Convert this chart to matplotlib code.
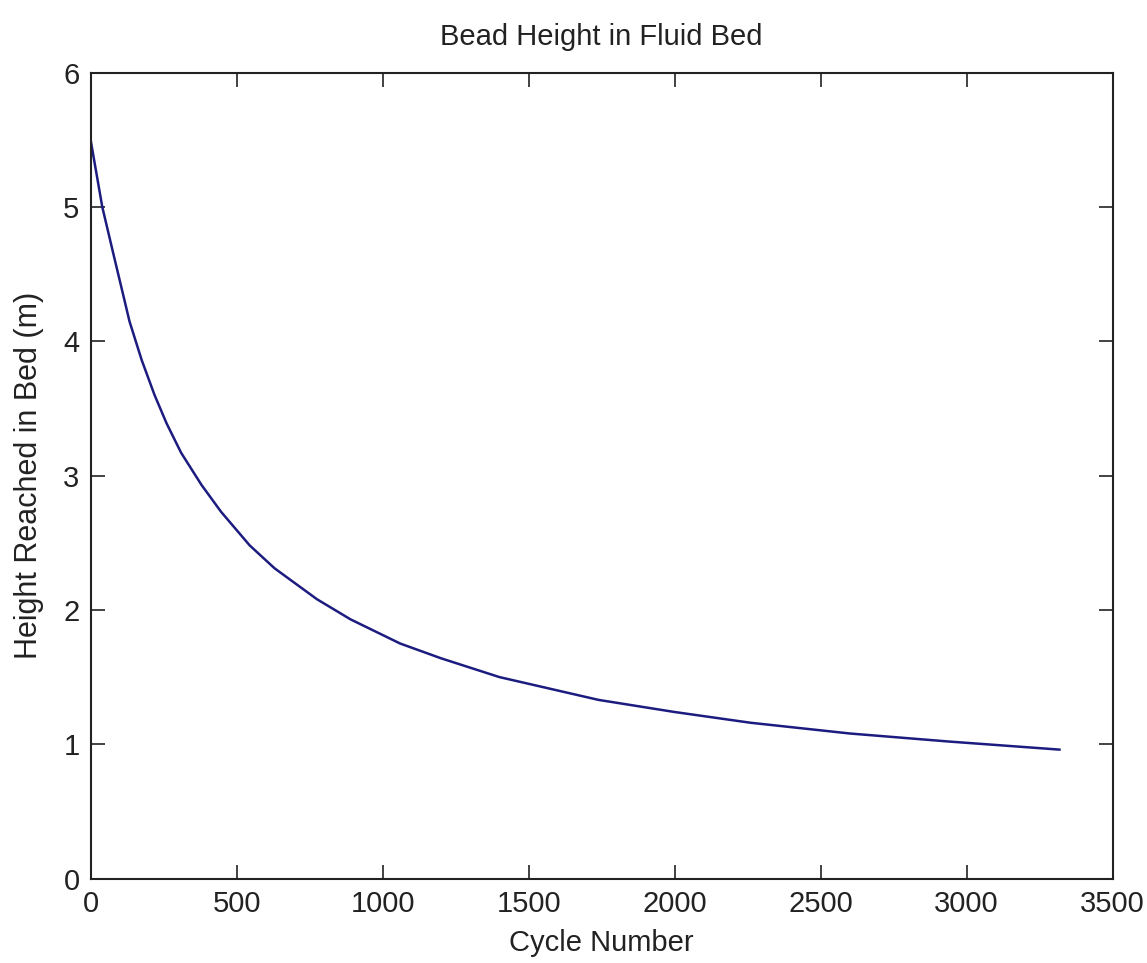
import matplotlib
matplotlib.use("Agg")
import matplotlib.pyplot as plt

cycle = [0, 20, 40, 77, 110, 133, 175, 219, 260, 310, 380, 447, 545, 630,
         775, 890, 1060, 1200, 1400, 1740, 2000, 2260, 2600, 2940, 3318]
height = [5.50, 5.25, 5.00, 4.66, 4.36, 4.15, 3.86, 3.60, 3.39, 3.17, 2.93,
          2.73, 2.48, 2.31, 2.08, 1.93, 1.75, 1.64, 1.50, 1.33, 1.24, 1.16,
          1.08, 1.02, 0.96]

xticks = [0, 500, 1000, 1500, 2000, 2500, 3000, 3500]
yticks = [0, 1, 2, 3, 4, 5, 6]

plt.rcParams['font.family'] = ['Liberation Sans', 'DejaVu Sans']

fig = plt.figure(figsize=(11.47, 9.63), dpi=100)
ax = fig.add_axes([0.079, 0.0877, 0.891, 0.8368])
ax.plot(cycle, height, color='#1c1c80', linewidth=1.8)

ax.set_xlim(0, 3500)
ax.set_ylim(0, 6)
ax.set_xticks(xticks)
ax.set_yticks(yticks)
ax.tick_params(direction='in', length=10, width=1.2, top=True, right=True,
               labelsize=21, pad=8, colors='#222222')
for s in ax.spines.values():
    s.set_linewidth(1.5)
    s.set_color('#222222')

ax.set_title('Bead Height in Fluid Bed', fontsize=21, pad=20, color='#222222')
ax.set_xlabel('Cycle Number', fontsize=21, labelpad=8, color='#222222')
ax.set_ylabel('Height Reached in Bed (m)', fontsize=22, labelpad=14, color='#222222')

fig.savefig('out.png', dpi=100)
